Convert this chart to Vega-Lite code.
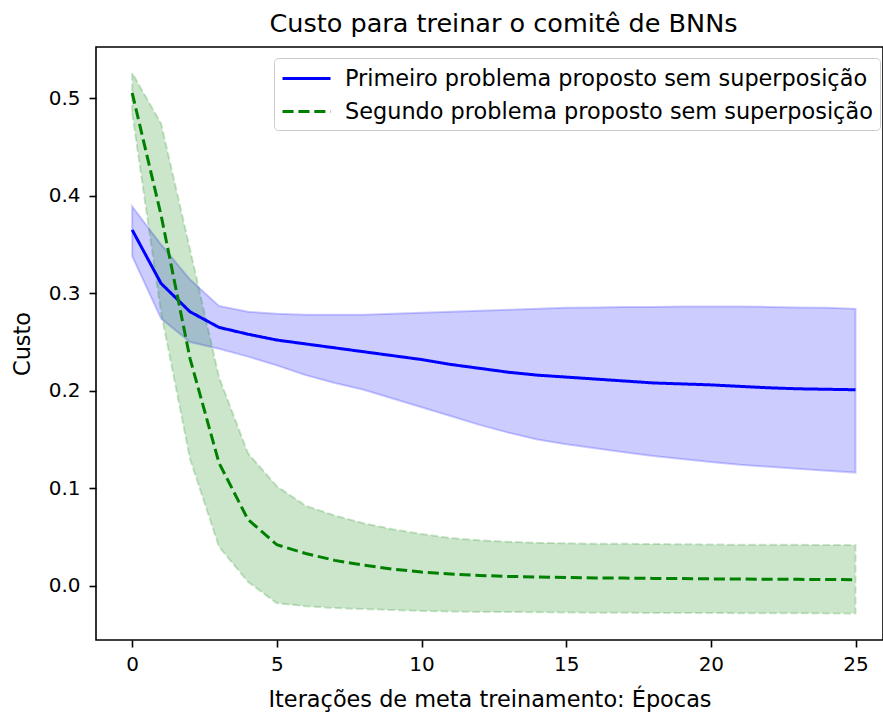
{
  "$schema": "https://vega.github.io/schema/vega-lite/v6.json",
  "width": 787,
  "height": 593,
  "autosize": {"type": "none"},
  "padding": {"left": 96, "top": 47, "right": 0, "bottom": 77},
  "background": "white",
  "title": {"text": "Custo para treinar o comitê de BNNs", "fontSize": 25.5, "fontWeight": "normal", "color": "#000", "font": "DejaVu Sans", "offset": 10, "anchor": "middle", "dx": 14},
  "data": {"values": [
    {"epoca": 0, "serie": "Primeiro problema proposto sem superposição", "media": 0.365, "inf": 0.338, "sup": 0.389},
    {"epoca": 1, "serie": "Primeiro problema proposto sem superposição", "media": 0.310, "inf": 0.274, "sup": 0.350},
    {"epoca": 2, "serie": "Primeiro problema proposto sem superposição", "media": 0.281, "inf": 0.250, "sup": 0.314},
    {"epoca": 3, "serie": "Primeiro problema proposto sem superposição", "media": 0.265, "inf": 0.243, "sup": 0.287},
    {"epoca": 4, "serie": "Primeiro problema proposto sem superposição", "media": 0.258, "inf": 0.235, "sup": 0.281},
    {"epoca": 5, "serie": "Primeiro problema proposto sem superposição", "media": 0.252, "inf": 0.226, "sup": 0.279},
    {"epoca": 6, "serie": "Primeiro problema proposto sem superposição", "media": 0.248, "inf": 0.216, "sup": 0.278},
    {"epoca": 7, "serie": "Primeiro problema proposto sem superposição", "media": 0.244, "inf": 0.208, "sup": 0.278},
    {"epoca": 8, "serie": "Primeiro problema proposto sem superposição", "media": 0.240, "inf": 0.201, "sup": 0.278},
    {"epoca": 9, "serie": "Primeiro problema proposto sem superposição", "media": 0.236, "inf": 0.192, "sup": 0.279},
    {"epoca": 10, "serie": "Primeiro problema proposto sem superposição", "media": 0.232, "inf": 0.183, "sup": 0.280},
    {"epoca": 11, "serie": "Primeiro problema proposto sem superposição", "media": 0.227, "inf": 0.174, "sup": 0.281},
    {"epoca": 12, "serie": "Primeiro problema proposto sem superposição", "media": 0.223, "inf": 0.165, "sup": 0.282},
    {"epoca": 13, "serie": "Primeiro problema proposto sem superposição", "media": 0.219, "inf": 0.157, "sup": 0.283},
    {"epoca": 14, "serie": "Primeiro problema proposto sem superposição", "media": 0.216, "inf": 0.150, "sup": 0.284},
    {"epoca": 15, "serie": "Primeiro problema proposto sem superposição", "media": 0.214, "inf": 0.145, "sup": 0.285},
    {"epoca": 16, "serie": "Primeiro problema proposto sem superposição", "media": 0.212, "inf": 0.141, "sup": 0.2855},
    {"epoca": 17, "serie": "Primeiro problema proposto sem superposição", "media": 0.210, "inf": 0.137, "sup": 0.286},
    {"epoca": 18, "serie": "Primeiro problema proposto sem superposição", "media": 0.208, "inf": 0.133, "sup": 0.286},
    {"epoca": 19, "serie": "Primeiro problema proposto sem superposição", "media": 0.207, "inf": 0.130, "sup": 0.2865},
    {"epoca": 20, "serie": "Primeiro problema proposto sem superposição", "media": 0.206, "inf": 0.127, "sup": 0.2865},
    {"epoca": 21, "serie": "Primeiro problema proposto sem superposição", "media": 0.2045, "inf": 0.124, "sup": 0.2865},
    {"epoca": 22, "serie": "Primeiro problema proposto sem superposição", "media": 0.203, "inf": 0.122, "sup": 0.286},
    {"epoca": 23, "serie": "Primeiro problema proposto sem superposição", "media": 0.202, "inf": 0.120, "sup": 0.2855},
    {"epoca": 24, "serie": "Primeiro problema proposto sem superposição", "media": 0.2015, "inf": 0.118, "sup": 0.285},
    {"epoca": 25, "serie": "Primeiro problema proposto sem superposição", "media": 0.201, "inf": 0.116, "sup": 0.284},
    {"epoca": 0, "serie": "Segundo problema proposto sem superposição", "media": 0.5055, "inf": 0.485, "sup": 0.526},
    {"epoca": 1, "serie": "Segundo problema proposto sem superposição", "media": 0.380, "inf": 0.280, "sup": 0.474},
    {"epoca": 2, "serie": "Segundo problema proposto sem superposição", "media": 0.233, "inf": 0.130, "sup": 0.345},
    {"epoca": 3, "serie": "Segundo problema proposto sem superposição", "media": 0.126, "inf": 0.040, "sup": 0.214},
    {"epoca": 4, "serie": "Segundo problema proposto sem superposição", "media": 0.068, "inf": 0.004, "sup": 0.136},
    {"epoca": 5, "serie": "Segundo problema proposto sem superposição", "media": 0.042, "inf": -0.018, "sup": 0.102},
    {"epoca": 6, "serie": "Segundo problema proposto sem superposição", "media": 0.033, "inf": -0.021, "sup": 0.082},
    {"epoca": 7, "serie": "Segundo problema proposto sem superposição", "media": 0.026, "inf": -0.023, "sup": 0.072},
    {"epoca": 8, "serie": "Segundo problema proposto sem superposição", "media": 0.021, "inf": -0.024, "sup": 0.064},
    {"epoca": 9, "serie": "Segundo problema proposto sem superposição", "media": 0.017, "inf": -0.025, "sup": 0.058},
    {"epoca": 10, "serie": "Segundo problema proposto sem superposição", "media": 0.014, "inf": -0.026, "sup": 0.053},
    {"epoca": 11, "serie": "Segundo problema proposto sem superposição", "media": 0.012, "inf": -0.0265, "sup": 0.049},
    {"epoca": 12, "serie": "Segundo problema proposto sem superposição", "media": 0.0105, "inf": -0.027, "sup": 0.0465},
    {"epoca": 13, "serie": "Segundo problema proposto sem superposição", "media": 0.0095, "inf": -0.027, "sup": 0.045},
    {"epoca": 14, "serie": "Segundo problema proposto sem superposição", "media": 0.009, "inf": -0.0272, "sup": 0.044},
    {"epoca": 15, "serie": "Segundo problema proposto sem superposição", "media": 0.0085, "inf": -0.0275, "sup": 0.0435},
    {"epoca": 16, "serie": "Segundo problema proposto sem superposição", "media": 0.008, "inf": -0.0277, "sup": 0.043},
    {"epoca": 17, "serie": "Segundo problema proposto sem superposição", "media": 0.0078, "inf": -0.0278, "sup": 0.043},
    {"epoca": 18, "serie": "Segundo problema proposto sem superposição", "media": 0.0075, "inf": -0.028, "sup": 0.0428},
    {"epoca": 19, "serie": "Segundo problema proposto sem superposição", "media": 0.0073, "inf": -0.028, "sup": 0.0425},
    {"epoca": 20, "serie": "Segundo problema proposto sem superposição", "media": 0.007, "inf": -0.028, "sup": 0.0423},
    {"epoca": 21, "serie": "Segundo problema proposto sem superposição", "media": 0.0068, "inf": -0.0282, "sup": 0.042},
    {"epoca": 22, "serie": "Segundo problema proposto sem superposição", "media": 0.0066, "inf": -0.0283, "sup": 0.042},
    {"epoca": 23, "serie": "Segundo problema proposto sem superposição", "media": 0.0065, "inf": -0.0283, "sup": 0.0419},
    {"epoca": 24, "serie": "Segundo problema proposto sem superposição", "media": 0.0063, "inf": -0.0284, "sup": 0.0418},
    {"epoca": 25, "serie": "Segundo problema proposto sem superposição", "media": 0.0062, "inf": -0.0284, "sup": 0.0418}
  ]},
  "encoding": {
    "x": {"field": "epoca", "type": "quantitative",
      "scale": {"domain": [-1.25, 25.95], "nice": false, "zero": false},
      "axis": {"title": "Iterações de meta treinamento: Épocas", "values": [0, 5, 10, 15, 20, 25], "format": "d", "labelFlush": false, "labelOverlap": false, "labelPadding": 7, "titlePadding": 14}}
  },
  "layer": [
    {
      "transform": [{"filter": "datum.serie === 'Primeiro problema proposto sem superposição'"}],
      "mark": {"type": "area", "color": "#0000ff", "fillOpacity": 0.2, "stroke": "#0000ff", "strokeOpacity": 0.2, "strokeWidth": 2},
      "encoding": {
        "y": {"field": "inf", "type": "quantitative", "scale": {"domain": [-0.0557, 0.5526], "nice": false, "zero": false},
          "axis": {"title": "Custo", "values": [0, 0.1, 0.2, 0.3, 0.4, 0.5], "format": ".1f", "labelOverlap": false, "labelPadding": 9, "titlePadding": 14}},
        "y2": {"field": "sup"}
      }
    },
    {
      "transform": [{"filter": "datum.serie === 'Segundo problema proposto sem superposição'"}],
      "mark": {"type": "area", "color": "#008000", "fillOpacity": 0.2, "stroke": "#008000", "strokeOpacity": 0.2, "strokeWidth": 2, "strokeDash": [7.4, 3.2]},
      "encoding": {
        "y": {"field": "inf", "type": "quantitative", "scale": {"domain": [-0.0557, 0.5526], "nice": false, "zero": false},
          "axis": {"title": "Custo", "values": [0, 0.1, 0.2, 0.3, 0.4, 0.5], "format": ".1f", "labelOverlap": false, "labelPadding": 9, "titlePadding": 14}},
        "y2": {"field": "sup"}
      }
    },
    {
      "mark": {"type": "line", "strokeWidth": 3},
      "encoding": {
        "y": {"field": "media", "type": "quantitative", "scale": {"domain": [-0.0557, 0.5526], "nice": false, "zero": false},
          "axis": {"title": "Custo", "values": [0, 0.1, 0.2, 0.3, 0.4, 0.5], "format": ".1f", "labelOverlap": false, "labelPadding": 9, "titlePadding": 14}},
        "color": {"field": "serie", "type": "nominal",
          "scale": {"domain": ["Primeiro problema proposto sem superposição", "Segundo problema proposto sem superposição"], "range": ["#0000ff", "#008000"]},
          "legend": {"title": null, "orient": "none", "legendX": 178, "legendY": 11}},
        "strokeDash": {"field": "serie", "type": "nominal",
          "scale": {"domain": ["Primeiro problema proposto sem superposição", "Segundo problema proposto sem superposição"], "range": [[1, 0], [11.1, 4.8]]},
          "legend": {"title": null, "orient": "none", "legendX": 178, "legendY": 11}}
      }
    }
  ],
  "config": {
    "font": "DejaVu Sans",
    "view": {"stroke": "#000", "strokeWidth": 1.6},
    "axis": {"domain": false, "grid": false, "ticks": true, "tickColor": "#000", "tickWidth": 1.6, "tickSize": 7,
      "labelFont": "DejaVu Sans", "labelFontSize": 20, "labelColor": "#000",
      "titleFont": "DejaVu Sans", "titleFontSize": 22.4, "titleFontWeight": "normal", "titleColor": "#000"},
    "legend": {"labelFont": "DejaVu Sans", "labelFontSize": 22.4, "labelColor": "#000", "labelLimit": 900,
      "symbolType": "M-2,0H2", "symbolSize": 576, "symbolStrokeWidth": 3, "symbolOffset": 12, "labelOffset": 25,
      "fillColor": "rgba(255,255,255,0.8)", "strokeColor": "#cccccc", "strokeWidth": 1, "cornerRadius": 4,
      "padding": 7, "rowPadding": 8}
  }
}
